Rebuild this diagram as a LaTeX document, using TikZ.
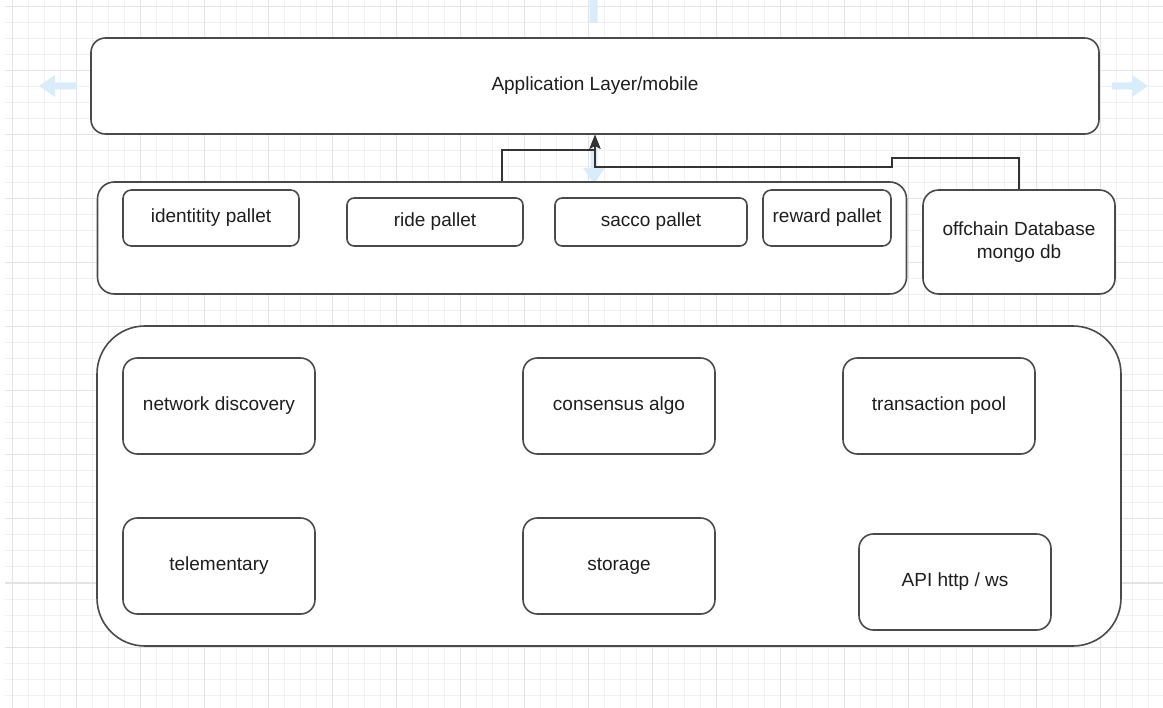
\documentclass[tikz,border=0pt]{standalone}
\usepackage{fontspec}
\setmainfont{Liberation Sans}
\usetikzlibrary{arrows.meta}

\definecolor{gridminor}{HTML}{F0F0F0}
\definecolor{gridmajor}{HTML}{E3E3E3}
\definecolor{hoverblue}{HTML}{D8ECF9}
\definecolor{edge}{HTML}{4A4A4A}
\definecolor{ink}{HTML}{1E1E1E}

\tikzset{
  box/.style={draw=edge, line width=1.6pt, fill=white, rounded corners=#1,
    inner sep=0pt, text=ink, align=center,
    font=\fontsize{19}{22.5}\selectfont},
  conn/.style={draw=black!80, line width=1.6pt,
    -{Stealth[length=14pt,width=11pt,inset=3pt]}},
  hover/.style={fill=hoverblue, draw=none}
}

\begin{document}
\begin{tikzpicture}[x=1pt, y=-1pt]
\useasboundingbox (0,0) rectangle (1163,708);

% page grid
\foreach \gx in {12,28,...,1163} \draw[gridminor, line width=1pt] (\gx,0) -- (\gx,708);
\foreach \gy in {7,23,...,708} \draw[gridminor, line width=1pt] (5,\gy) -- (1163,\gy);
\foreach \gx in {12,76,...,1163} \draw[gridmajor, line width=1pt] (\gx,0) -- (\gx,708);
\foreach \gy in {7,71,...,708} \draw[gridmajor, line width=1pt] (5,\gy) -- (1163,\gy);

% light blue hover arrows round the top box
\begin{scope}
\clip (0,0) rectangle (1163,708);
\fill[hover] (39,86) -- (55,75) -- (55,82.5) -- (77,82.5) -- (77,89.5) -- (55,89.5) -- (55,97) -- cycle;
\fill[hover] (1148,86) -- (1132,75) -- (1132,82.5) -- (1112,82.5) -- (1112,89.5) -- (1132,89.5) -- (1132,97) -- cycle;
\fill[hover] (593.5,-32) -- (604.5,-16) -- (597.5,-16) -- (597.5,23) -- (589.5,23) -- (589.5,-16) -- (582.5,-16) -- cycle;
\fill[hover] (594,184) -- (583,168) -- (590.5,168) -- (590.5,148) -- (597.5,148) -- (597.5,168) -- (605,168) -- cycle;
\end{scope}

% application layer
\node[box=14.4pt, minimum width=1008pt, minimum height=96pt] (app) at (595,86) {Application Layer/mobile};

% runtime pallets
\node[box=16.8pt, minimum width=809pt, minimum height=112pt] (pallets) at (502,238) {};
\node[box=8.4pt, minimum width=176pt, minimum height=56pt] (identity) at (211,218) {identitity pallet};
\node[box=7.2pt, minimum width=176pt, minimum height=48pt] (ride) at (435,222) {ride pallet};
\node[box=7.2pt, minimum width=192pt, minimum height=48pt] (sacco) at (651,222) {sacco pallet};
\node[box=8.4pt, minimum width=128pt, minimum height=56pt] (reward) at (827,218) {reward pallet};

% off-chain store
\node[box=15.6pt, minimum width=192pt, minimum height=104pt] (offchain) at (1019,242) {offchain Database\\mongo db};

% node core services
\node[box=48pt, minimum width=1024pt, minimum height=320pt] (core) at (609,486) {};
\node[box=14.4pt, minimum width=192pt, minimum height=96pt] (network) at (219,406) {network discovery};
\node[box=14.4pt, minimum width=192pt, minimum height=96pt] (consensus) at (619,406) {consensus algo};
\node[box=14.4pt, minimum width=192pt, minimum height=96pt] (txpool) at (939,406) {transaction pool};
\node[box=14.4pt, minimum width=192pt, minimum height=96pt] (telemetry) at (219,566) {telementary};
\node[box=14.4pt, minimum width=192pt, minimum height=96pt] (storage) at (619,566) {storage};
\node[box=14.4pt, minimum width=192pt, minimum height=96pt] (api) at (955,582) {API http / ws};

% connectors into the application layer
\coordinate (palletbend) at (502,150);
\coordinate (dbbendA) at (892,158);
\coordinate (dbbendB) at (595,167);
\draw[conn] (pallets.north) -- (palletbend) -| (app.south);
\draw[conn] (offchain.north) |- (dbbendA) |- (dbbendB) -- (app.south);
\end{tikzpicture}
\end{document}
